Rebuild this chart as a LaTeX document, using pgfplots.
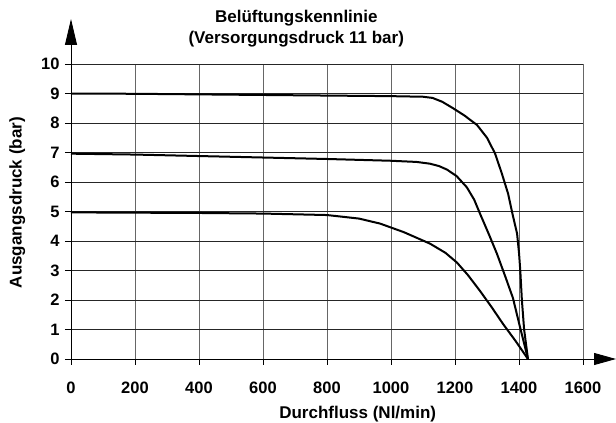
\documentclass[border=0pt]{standalone}
\usepackage{pgfplots}
\pgfplotsset{compat=1.18}
\usepackage{fontspec}
\setmainfont{Liberation Sans}
\usetikzlibrary{arrows.meta}
\begin{document}
\begin{tikzpicture}
\begin{axis}[
  name=ax,
  scale only axis, width=512pt, height=295pt,
  xmin=0, xmax=1600, ymin=0, ymax=10,
  xtick={0,200,...,1600}, ytick={0,1,...,10},
  axis x line*=bottom, axis y line*=left,
  axis line style={line width=0.9pt, black},
  grid=major,
  x grid style={line width=0.9pt, black!60},
  y grid style={line width=0.9pt, black!85},
  tick style={black, line width=0.9pt},
  tick align=outside, major tick length=6pt,
  /pgf/number format/assume math mode=true,
  /pgf/number format/set thousands separator={},
  ticklabel style={font=\fontsize{16.5}{19}\selectfont\bfseries},
  xticklabel style={yshift=-13pt},
  yticklabel style={xshift=-2pt},
  xlabel={Durchfluss (Nl/min)},
  ylabel={Ausgangsdruck (bar)},
  label style={font=\fontsize{17}{20}\selectfont\bfseries},
  xlabel style={at={(ticklabel cs:0.56)}, yshift=-6pt},
  ylabel style={at={(ticklabel cs:0.53)}, yshift=9pt},
  title={Belüftungskennlinie\\(Versorgungsdruck 11 bar)},
  title style={font=\fontsize{17}{21}\selectfont\bfseries, align=center,
    at={(axis description cs:0.44,1)}, anchor=south, yshift=7.5pt},
  clip=false,
]
\addplot[line width=2pt, black] coordinates {
 (0,9.00) (200,8.99) (400,8.97) (600,8.95) (800,8.93) (1000,8.91) (1100,8.89)
 (1130,8.85) (1160,8.72) (1194,8.50) (1230,8.25) (1269,7.93) (1300,7.50)
 (1325,6.97) (1346,6.30) (1366,5.60) (1380,4.90) (1394,4.25) (1400,3.60)
 (1404,3.00) (1409,2.00) (1416,1.00) (1428,0)};
\addplot[line width=2pt, black] coordinates {
 (0,6.96) (200,6.93) (400,6.88) (600,6.83) (800,6.78) (1000,6.72) (1080,6.68)
 (1122,6.62) (1150,6.54) (1175,6.42) (1205,6.20) (1237,5.82) (1260,5.40)
 (1278,4.93) (1305,4.25) (1331,3.57) (1357,2.80) (1381,2.07) (1405,1.00) (1428,0)};
\addplot[line width=2pt, black] coordinates {
 (0,4.97) (200,4.96) (400,4.95) (600,4.93) (800,4.88) (900,4.76) (966,4.59)
 (1040,4.30) (1122,3.91) (1170,3.60) (1206,3.27) (1240,2.85) (1278,2.31)
 (1315,1.75) (1350,1.19) (1390,0.60) (1428,0)};
\draw[line width=0.9pt, -{Triangle[length=26pt,width=12pt]}] (rel axis cs:0,1) -- ++(0,45pt);
\draw[line width=0.9pt, -{Triangle[length=22pt,width=12pt]}] (rel axis cs:1,0) -- ++(33pt,0);
\end{axis}
\pgfresetboundingbox
\path (-71pt,-64pt) rectangle (545pt,359pt);
\end{tikzpicture}
\end{document}
